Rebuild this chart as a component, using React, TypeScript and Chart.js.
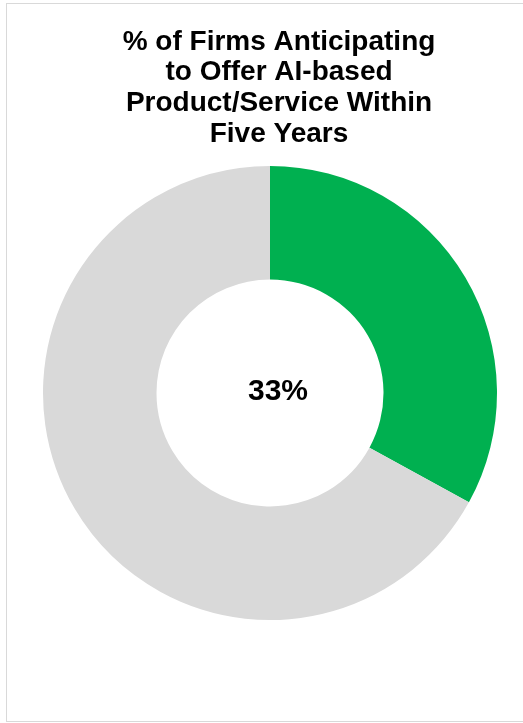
import React, { useEffect, useRef } from "react";
import { Chart, registerables } from "chart.js";

Chart.register(...registerables);

const titleLines = ["% of Firms Anticipating", "to Offer AI-based", "Product/Service Within", "Five Years"];
const categories = ["Anticipating AI-based offering", "Other"];
const values = [33, 67];
const centerLabel = "33%";
const colors = ["#00B050", "#D9D9D9"];

const FONT = "'Liberation Sans', Arial, sans-serif";

const titlePlugin = {
  id: "customTitle",
  afterDraw(chart: any) {
    const ctx = chart.ctx;
    ctx.save();
    ctx.font = `bold 28px ${FONT}`;
    ctx.fillStyle = "#000000";
    ctx.textAlign = "center";
    ctx.textBaseline = "alphabetic";
    const cx = chart.width / 2 + 14;
    titleLines.forEach((line, i) => {
      ctx.fillText(line, cx, 45.5 + i * 30.7);
    });
    ctx.restore();
  },
};

const centerTextPlugin = {
  id: "centerText",
  afterDatasetsDraw(chart: any) {
    const meta = chart.getDatasetMeta(0);
    const arc = meta.data[0];
    if (!arc) return;
    const { x, y } = arc.getProps(["x", "y"], true);
    const ctx = chart.ctx;
    ctx.save();
    ctx.font = `bold 30px ${FONT}`;
    ctx.fillStyle = "#000000";
    ctx.textAlign = "center";
    ctx.textBaseline = "middle";
    ctx.fillText(centerLabel, x + 8, y - 1);
    ctx.restore();
  },
};

export default function App() {
  const ref = useRef<HTMLCanvasElement>(null);
  useEffect(() => {
    if (!ref.current) return;
    const chart = new Chart(ref.current, {
      type: "doughnut",
      data: {
        labels: categories,
        datasets: [
          {
            data: values,
            backgroundColor: colors,
            borderWidth: 0,
            hoverOffset: 0,
          },
        ],
      },
      options: {
        animation: false,
        responsive: false,
        maintainAspectRatio: false,
        cutout: "50%",
        rotation: 0,
        layout: { padding: { left: 36, right: 26, top: 162, bottom: 101 } },
        plugins: {
          legend: { display: false },
          tooltip: { enabled: false },
          title: { display: false },
        },
      },
      plugins: [titlePlugin, centerTextPlugin],
    });
    return () => chart.destroy();
  }, []);
  return (
    <div
      style={{
        position: "absolute",
        left: 6,
        top: 3,
        width: 530,
        height: 719,
        boxSizing: "border-box",
        border: "1px solid #D9D9D9",
        background: "#FFFFFF",
      }}
    >
      <canvas ref={ref} width={516} height={717} style={{ display: "block" }} />
    </div>
  );
}
